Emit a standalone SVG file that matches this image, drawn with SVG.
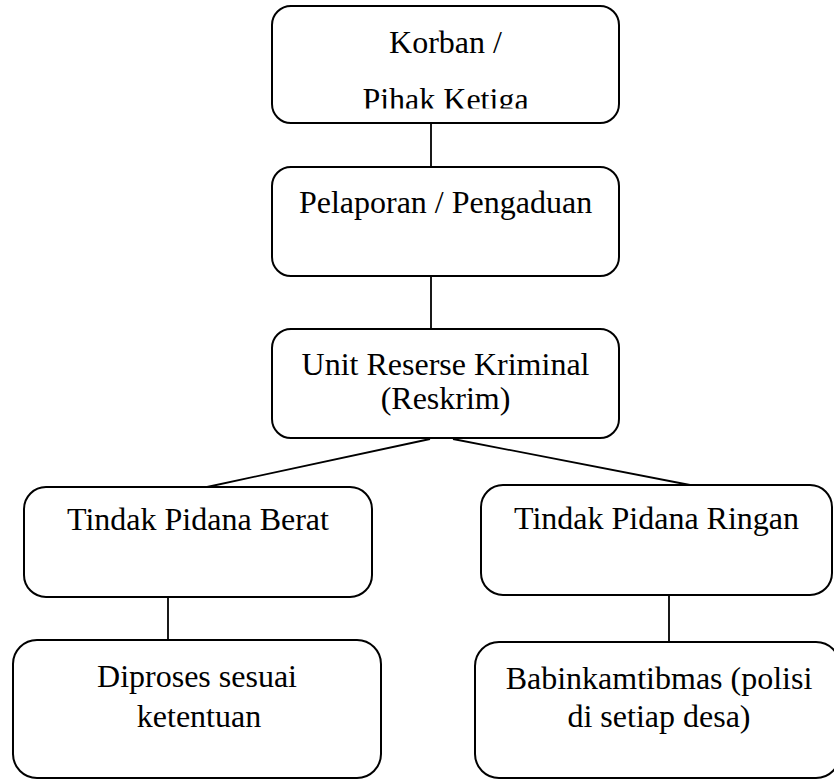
<svg xmlns="http://www.w3.org/2000/svg" width="834" height="780" viewBox="0 0 834 780">
<style>
.box{fill:#fff;stroke:#000;stroke-width:2}
.t{font-family:"Liberation Serif","Times New Roman",serif;font-size:32px;fill:#000;text-anchor:middle}
.c line{stroke:#000;stroke-width:1.8}
</style>
<defs>
<clipPath id="clip1"><rect x="272" y="6" width="347" height="102.5"/></clipPath>
</defs>
<rect width="834" height="780" fill="#fff"/>
<g class="c" id="connectors">
<line x1="431" y1="123" x2="431" y2="167"/>
<line x1="431" y1="276" x2="431" y2="329"/>
<line x1="430" y1="439" x2="207" y2="487"/>
<line x1="453" y1="439" x2="690" y2="485"/>
<line x1="168" y1="597" x2="168" y2="640"/>
<line x1="669" y1="595" x2="669" y2="642"/>
</g>
<g id="korban">
<rect class="box" x="272" y="6" width="347" height="117" rx="19"/>
<text class="t" x="445.5" y="53">Korban /</text>
<text class="t" x="445.5" y="110" clip-path="url(#clip1)">Pihak Ketiga</text>
</g>
<g id="pelaporan">
<rect class="box" x="272" y="167" width="347" height="109" rx="19"/>
<text class="t" x="445.5" y="213">Pelaporan / Pengaduan</text>
</g>
<g id="reskrim">
<rect class="box" x="272" y="329" width="347" height="109" rx="19"/>
<text class="t" x="445.5" y="375">Unit Reserse Kriminal</text>
<text class="t" x="445.5" y="409">(Reskrim)</text>
</g>
<g id="berat">
<rect class="box" x="24" y="487" width="348" height="110" rx="22"/>
<text class="t" x="198" y="530">Tindak Pidana Berat</text>
</g>
<g id="ringan">
<rect class="box" x="481" y="485" width="351" height="110" rx="22"/>
<text class="t" x="656.5" y="529">Tindak Pidana Ringan</text>
</g>
<g id="diproses">
<rect class="box" x="13" y="640" width="368" height="138" rx="24"/>
<text class="t" x="197" y="687">Diproses sesuai</text>
<text class="t" x="199" y="727">ketentuan</text>
</g>
<g id="babinkamtibmas">
<rect class="box" x="475" y="642" width="365" height="136" rx="24"/>
<text class="t" x="659" y="689">Babinkamtibmas (polisi</text>
<text class="t" x="659" y="727">di setiap desa)</text>
</g>
</svg>
